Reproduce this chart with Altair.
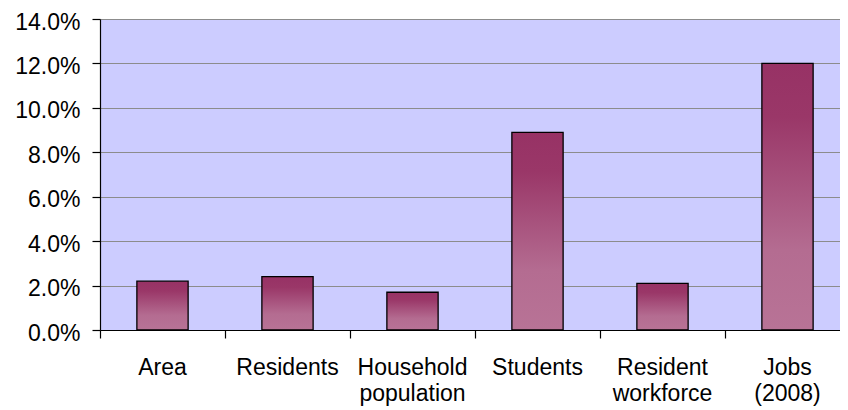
import altair as alt
import pandas as pd

categories = ["Area", "Residents", "Household population", "Students",
              "Resident workforce", "Jobs (2008)"]
shares = [0.022, 0.024, 0.017, 0.089, 0.021, 0.120]
y_ticks = [0.0, 0.02, 0.04, 0.06, 0.08, 0.10, 0.12, 0.14]

df = pd.DataFrame({"category": categories, "share": shares})

gradient = alt.Gradient(
    gradient="linear",
    x1=0, y1=0, x2=0, y2=1,
    stops=[
        alt.GradientStop(color="#973265", offset=0),
        alt.GradientStop(color="#9A3768", offset=0.2),
        alt.GradientStop(color="#B46C91", offset=0.7),
        alt.GradientStop(color="#B87396", offset=1),
    ],
)

FONT = "Liberation Sans"

chart = (
    alt.Chart(df)
    .mark_bar(color=gradient, stroke="#000000", strokeWidth=1.3,
              width=alt.RelativeBandSize(0.41))
    .encode(
        x=alt.X(
            "category:N",
            sort=None,
            scale=alt.Scale(paddingInner=0, paddingOuter=0, range=[0, 750]),
            axis=alt.Axis(
                title=None,
                labelAngle=0,
                bandPosition=0,
                tickSize=8,
                tickColor="#000000",
                domainColor="#000000",
                labelFont=FONT,
                labelFontSize=23,
                labelColor="#000000",
                labelPadding=18,
                labelLineHeight=26,
                labelExpr="split(datum.label, ' ')",
                grid=False,
            ),
        ),
        y=alt.Y(
            "share:Q",
            scale=alt.Scale(domain=[0, 0.14], nice=False),
            axis=alt.Axis(
                title=None,
                values=y_ticks,
                format=".1%",
                tickSize=8,
                tickColor="#000000",
                domainColor="#000000",
                labelFont=FONT,
                labelFontSize=23,
                labelColor="#000000",
                labelPadding=12,
                labelOffset=3,
                grid=True,
                gridColor="#8C8C8C",
                gridWidth=1,
            ),
        ),
    )
    .properties(
        width=740,
        height=311,
        autosize=alt.AutoSizeParams(type="none"),
        padding={"left": 92, "top": 11, "right": 0, "bottom": 80},
    )
    .configure_view(fill="#CCCCFF", stroke=None)
    .configure_axis(domainWidth=1.2, tickWidth=1.2)
)

chart.save("out.html", embed_options={"renderer": "svg", "actions": False})
